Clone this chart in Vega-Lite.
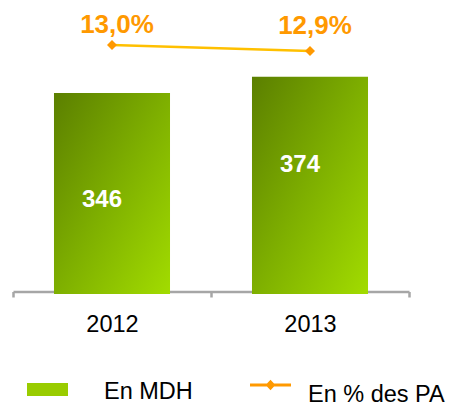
{
  "$schema": "https://vega.github.io/schema/vega-lite/v6.json",
  "width": 396,
  "height": 294,
  "autosize": {"type": "none"},
  "padding": {"left": 13, "top": 0, "right": 43, "bottom": 112},
  "background": "white",
  "config": {
    "view": {"stroke": null},
    "locale": {"number": {"decimal": ",", "thousands": " ", "grouping": [3], "currency": ["", " €"]}},
    "font": "Liberation Sans"
  },
  "data": {"values": [
    {"year": "2012", "mdh": 346, "pct": 0.130},
    {"year": "2013", "mdh": 374, "pct": 0.129}
  ]},
  "encoding": {
    "x": {
      "field": "year", "type": "nominal",
      "scale": {"paddingInner": 0, "paddingOuter": 0},
      "axis": {
        "title": null, "tickBand": "extent", "labelAngle": 0,
        "labelFont": "Liberation Sans", "labelFontSize": 23.5, "labelColor": "#000000",
        "labelBaseline": "alphabetic", "labelPadding": 34,
        "tickSize": 5.5, "tickColor": "#A6A6A6", "tickWidth": 2.5,
        "domainColor": "#A6A6A6", "domainWidth": 2.5, "offset": -2.5,
        "encode": {"ticks": {"y": {"value": -5.5}, "y2": {"value": 5.5}}}
      }
    }
  },
  "layer": [
    {
      "mark": {
        "type": "bar",
        "width": {"band": 0.586},
        "fill": {"gradient": "linear", "x1": 0, "y1": 0, "x2": 1, "y2": 1,
          "stops": [{"offset": 0, "color": "#5B7F00"}, {"offset": 0.5, "color": "#7EAF00"}, {"offset": 1, "color": "#A2DC00"}]}
      },
      "encoding": {
        "y": {"field": "mdh", "type": "quantitative", "scale": {"domain": [0, 506]}, "axis": null}
      }
    },
    {
      "mark": {"type": "square", "filled": true, "opacity": 0, "size": 10},
      "encoding": {
        "y": {"field": "mdh", "type": "quantitative", "scale": {"domain": [0, 506]}, "axis": null},
        "color": {
          "datum": "En MDH",
          "scale": {"range": ["#99CC00"]},
          "legend": {
            "orient": "none", "legendX": 14, "legendY": 371.5, "title": null, "padding": 0,
            "labelOffset": 36, "symbolSize": 1681, "symbolType": "M-1,-0.439H1V0.195H-1Z",
            "symbolOpacity": 1, "symbolStrokeWidth": 0, "symbolStrokeColor": "transparent",
            "labelFont": "Liberation Sans", "labelFontSize": 23.5, "labelColor": "#000000"
          }
        }
      }
    },
    {
      "mark": {"type": "text", "font": "Liberation Sans", "fontWeight": "bold", "fontSize": 24, "color": "white", "baseline": "alphabetic", "dx": -10},
      "encoding": {
        "y": {"field": "mdh", "type": "quantitative", "scale": {"domain": [276.4, 511.6]}, "axis": null},
        "text": {"field": "mdh", "type": "quantitative"}
      }
    },
    {
      "mark": {"type": "line", "stroke": "#FFC000", "strokeWidth": 2.5},
      "encoding": {
        "y": {"field": "pct", "type": "quantitative", "scale": {"domain": [0.0885, 0.1375]}, "axis": null}
      }
    },
    {
      "mark": {"type": "point", "shape": "diamond", "filled": true, "size": 100, "opacity": 1},
      "encoding": {
        "y": {"field": "pct", "type": "quantitative", "scale": {"domain": [0.0885, 0.1375]}, "axis": null},
        "color": {
          "datum": "En % des PA",
          "scale": {"range": ["#FF9900"]},
          "legend": {
            "orient": "none", "legendX": 237, "legendY": 374.5, "title": null, "padding": 0,
            "labelOffset": 17, "symbolSize": 1681,
            "symbolType": "M-1,-0.561H1V-0.415H-1Z M0,-0.748L0.24,-0.488L0,-0.228L-0.24,-0.488Z",
            "symbolOpacity": 1, "symbolStrokeWidth": 0, "symbolStrokeColor": "transparent",
            "labelFont": "Liberation Sans", "labelFontSize": 23.5, "labelColor": "#000000"
          }
        }
      }
    },
    {
      "mark": {"type": "text", "font": "Liberation Sans", "fontWeight": "bold", "fontSize": 26, "color": "#FF9900", "baseline": "alphabetic", "dx": 5},
      "encoding": {
        "y": {"field": "pct", "type": "quantitative", "scale": {"domain": [-0.131, 0.163]}, "axis": null},
        "text": {"field": "pct", "type": "quantitative", "format": ".1%"}
      }
    }
  ],
  "resolve": {"scale": {"y": "independent", "color": "independent"}}
}
